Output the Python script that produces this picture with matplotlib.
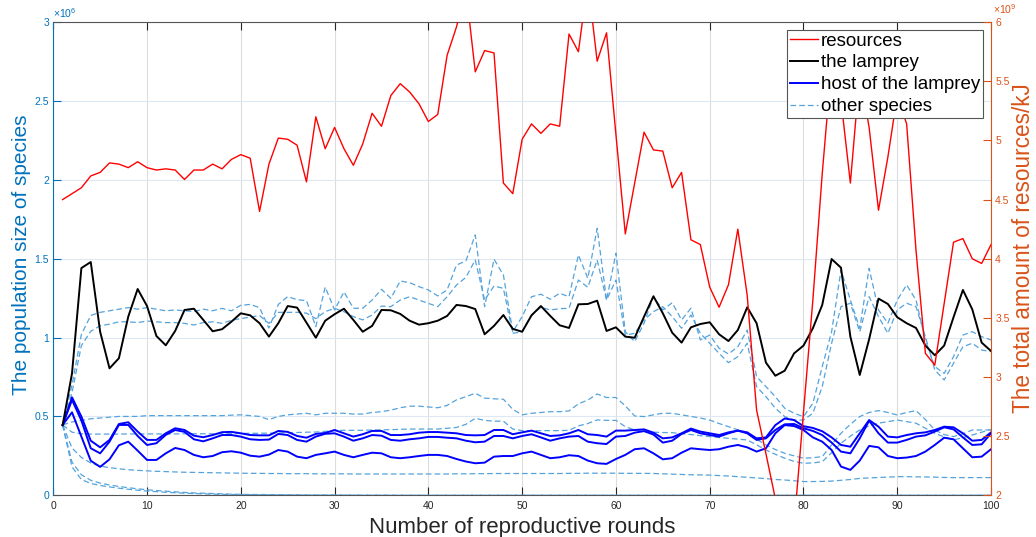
import matplotlib
matplotlib.use("Agg")
import matplotlib.pyplot as plt
from matplotlib.ticker import FuncFormatter
from matplotlib.lines import Line2D

plt.rcParams['font.family'] = ['Liberation Sans', 'DejaVu Sans']
plt.rcParams['mathtext.fontset'] = 'custom'
plt.rcParams['mathtext.rm'] = 'Liberation Sans'

# reproductive rounds 1..100
rounds = list(range(1, 101))

# total amount of resources (x10^9 kJ)
resources = [
    4.50, 4.55, 4.60, 4.70, 4.73, 4.81, 4.80, 4.77, 4.82, 4.77,
    4.75, 4.76, 4.75, 4.67, 4.75, 4.75, 4.80, 4.76, 4.84, 4.88,
    4.85, 4.40, 4.80, 5.02, 5.01, 4.96, 4.65, 5.20, 4.93, 5.11,
    4.93, 4.79, 4.97, 5.23, 5.12, 5.38, 5.48, 5.41, 5.31, 5.16,
    5.22, 5.72, 5.96, 6.28, 5.58, 5.76, 5.74, 4.64, 4.55, 5.01,
    5.14, 5.06, 5.14, 5.12, 5.90, 5.75, 6.35, 5.67, 5.91, 5.05,
    4.21, 4.64, 5.07, 4.92, 4.91, 4.60, 4.73, 4.16, 4.12, 3.76,
    3.59, 3.78, 4.25, 3.69, 2.72, 2.35, 1.97, 1.55, 1.75, 2.70,
    3.65, 4.72, 5.65, 5.34, 4.64, 5.57, 5.11, 4.41, 4.86, 5.38,
    5.14, 4.07, 3.20, 3.10, 3.62, 4.14, 4.17, 4.00, 3.96, 4.12,
]

# population of the lamprey (x10^6)
lamprey = [
    0.444, 0.773, 1.441, 1.479, 1.037, 0.805, 0.869, 1.133, 1.308, 1.200,
    1.010, 0.951, 1.042, 1.175, 1.183, 1.112, 1.040, 1.053, 1.101, 1.154,
    1.141, 1.091, 1.006, 1.091, 1.200, 1.190, 1.095, 0.999, 1.107, 1.148,
    1.183, 1.112, 1.037, 1.074, 1.175, 1.173, 1.150, 1.107, 1.082, 1.091,
    1.107, 1.137, 1.207, 1.200, 1.181, 1.021, 1.074, 1.143, 1.055, 1.037,
    1.141, 1.200, 1.137, 1.078, 1.061, 1.211, 1.213, 1.234, 1.042, 1.065,
    1.006, 0.999, 1.133, 1.262, 1.154, 1.031, 0.968, 1.065, 1.086, 1.097,
    1.021, 0.978, 1.048, 1.192, 1.091, 0.841, 0.758, 0.790, 0.900, 0.949,
    1.059, 1.207, 1.498, 1.443, 1.006, 0.763, 0.989, 1.247, 1.213, 1.129,
    1.091, 1.061, 0.949, 0.888, 0.949, 1.129, 1.302, 1.179, 0.968, 0.915,
]

# host species of the lamprey (x10^6)
host_a = [
    0.446, 0.621, 0.499, 0.346, 0.304, 0.351, 0.452, 0.463, 0.404, 0.351,
    0.351, 0.393, 0.425, 0.414, 0.378, 0.368, 0.382, 0.400, 0.402, 0.393,
    0.382, 0.380, 0.380, 0.408, 0.402, 0.376, 0.365, 0.389, 0.395, 0.414,
    0.393, 0.372, 0.387, 0.408, 0.408, 0.382, 0.382, 0.387, 0.397, 0.401,
    0.401, 0.397, 0.393, 0.382, 0.380, 0.382, 0.414, 0.414, 0.387, 0.399,
    0.410, 0.393, 0.376, 0.380, 0.393, 0.414, 0.387, 0.382, 0.372, 0.410,
    0.410, 0.414, 0.418, 0.397, 0.361, 0.367, 0.393, 0.423, 0.404, 0.393,
    0.382, 0.399, 0.410, 0.399, 0.361, 0.367, 0.445, 0.487, 0.477, 0.438,
    0.427, 0.406, 0.367, 0.319, 0.308, 0.393, 0.477, 0.435, 0.372, 0.367,
    0.382, 0.393, 0.399, 0.414, 0.435, 0.431, 0.393, 0.346, 0.351, 0.399,
]
host_b = [
    0.446, 0.605, 0.474, 0.298, 0.266, 0.340, 0.446, 0.446, 0.376, 0.319,
    0.330, 0.383, 0.414, 0.402, 0.355, 0.342, 0.361, 0.382, 0.382, 0.372,
    0.355, 0.351, 0.353, 0.389, 0.382, 0.351, 0.340, 0.372, 0.390, 0.393,
    0.372, 0.346, 0.361, 0.382, 0.378, 0.351, 0.346, 0.355, 0.361, 0.370,
    0.370, 0.365, 0.361, 0.346, 0.336, 0.340, 0.376, 0.376, 0.361, 0.376,
    0.387, 0.367, 0.346, 0.361, 0.372, 0.376, 0.340, 0.330, 0.325, 0.372,
    0.376, 0.397, 0.407, 0.385, 0.334, 0.346, 0.389, 0.414, 0.393, 0.382,
    0.372, 0.393, 0.410, 0.393, 0.351, 0.361, 0.414, 0.450, 0.452, 0.425,
    0.408, 0.382, 0.334, 0.277, 0.266, 0.361, 0.473, 0.393, 0.334, 0.334,
    0.351, 0.372, 0.380, 0.404, 0.431, 0.418, 0.367, 0.319, 0.323, 0.393,
]
host_c = [
    0.446, 0.526, 0.372, 0.219, 0.180, 0.228, 0.317, 0.340, 0.283, 0.224,
    0.224, 0.266, 0.300, 0.287, 0.256, 0.241, 0.249, 0.273, 0.279, 0.270,
    0.251, 0.245, 0.258, 0.287, 0.277, 0.245, 0.235, 0.256, 0.266, 0.277,
    0.256, 0.241, 0.256, 0.270, 0.266, 0.241, 0.235, 0.241, 0.249, 0.256,
    0.256, 0.249, 0.230, 0.214, 0.203, 0.207, 0.245, 0.249, 0.249, 0.266,
    0.277, 0.256, 0.235, 0.241, 0.254, 0.249, 0.220, 0.203, 0.199, 0.230,
    0.256, 0.292, 0.298, 0.266, 0.228, 0.235, 0.270, 0.298, 0.292, 0.287,
    0.292, 0.308, 0.319, 0.304, 0.277, 0.298, 0.393, 0.445, 0.439, 0.414,
    0.367, 0.340, 0.287, 0.182, 0.161, 0.220, 0.313, 0.304, 0.249, 0.235,
    0.239, 0.249, 0.277, 0.319, 0.365, 0.355, 0.298, 0.241, 0.245, 0.292,
]

# remaining species in the community (x10^6)
other_1 = [
    0.446, 0.700, 1.020, 1.140, 1.160, 1.170, 1.180, 1.190, 1.180, 1.190,
    1.180, 1.170, 1.175, 1.170, 1.165, 1.180, 1.170, 1.185, 1.170, 1.205,
    1.210, 1.190, 1.060, 1.210, 1.260, 1.240, 1.235, 1.070, 1.320, 1.175,
    1.290, 1.186, 1.186, 1.238, 1.306, 1.249, 1.359, 1.348, 1.323, 1.302,
    1.264, 1.302, 1.460, 1.486, 1.651, 1.196, 1.497, 1.397, 1.037, 1.133,
    1.259, 1.275, 1.243, 1.281, 1.259, 1.524, 1.376, 1.693, 1.238, 1.535,
    1.037, 0.974, 1.091, 1.260, 1.175, 1.221, 1.112, 1.186, 0.985, 1.016,
    0.932, 0.896, 0.942, 1.048, 0.752, 0.689, 0.625, 0.552, 0.520, 0.499,
    0.583, 0.816, 1.037, 1.429, 1.238, 1.059, 1.439, 1.175, 1.091, 1.238,
    1.334, 1.238, 0.985, 0.816, 0.773, 0.879, 1.016, 1.037, 1.006, 0.985,
]
other_2 = [
    0.446, 0.650, 0.950, 1.040, 1.075, 1.085, 1.100, 1.100, 1.095, 1.105,
    1.100, 1.095, 1.095, 1.090, 1.080, 1.095, 1.100, 1.090, 1.110, 1.120,
    1.130, 1.140, 1.090, 1.160, 1.160, 1.160, 1.155, 1.120, 1.165, 1.185,
    1.164, 1.133, 1.112, 1.143, 1.200, 1.196, 1.238, 1.259, 1.238, 1.217,
    1.196, 1.259, 1.333, 1.382, 1.492, 1.238, 1.327, 1.312, 1.027, 1.037,
    1.143, 1.192, 1.175, 1.183, 1.186, 1.365, 1.319, 1.492, 1.238, 1.365,
    1.016, 1.027, 1.112, 1.164, 1.196, 1.133, 1.059, 1.143, 1.027, 0.964,
    0.900, 0.841, 0.879, 0.964, 0.689, 0.625, 0.552, 0.499, 0.477, 0.477,
    0.520, 0.689, 0.964, 1.196, 1.218, 1.037, 1.259, 1.133, 1.027, 1.175,
    1.218, 1.196, 1.006, 0.795, 0.731, 0.837, 0.942, 0.964, 0.921, 0.911,
]
other_3 = [
    0.446, 0.465, 0.475, 0.485, 0.490, 0.495, 0.500, 0.500, 0.500, 0.505,
    0.505, 0.505, 0.505, 0.505, 0.505, 0.505, 0.505, 0.505, 0.508, 0.510,
    0.505, 0.500, 0.480, 0.500, 0.510, 0.515, 0.520, 0.510, 0.520, 0.520,
    0.520, 0.515, 0.515, 0.525, 0.530, 0.540, 0.555, 0.565, 0.565, 0.560,
    0.555, 0.570, 0.605, 0.625, 0.647, 0.616, 0.612, 0.609, 0.545, 0.510,
    0.520, 0.525, 0.530, 0.530, 0.535, 0.580, 0.604, 0.642, 0.620, 0.620,
    0.567, 0.503, 0.499, 0.510, 0.520, 0.520, 0.510, 0.500, 0.490, 0.477,
    0.455, 0.435, 0.415, 0.393, 0.355, 0.319, 0.290, 0.266, 0.250, 0.235,
    0.238, 0.245, 0.320, 0.393, 0.450, 0.499, 0.525, 0.537, 0.525, 0.509,
    0.525, 0.537, 0.480, 0.414, 0.385, 0.372, 0.390, 0.414, 0.414, 0.414,
]
other_4 = [
    0.446, 0.400, 0.390, 0.388, 0.388, 0.388, 0.388, 0.389, 0.389, 0.389,
    0.389, 0.389, 0.389, 0.390, 0.390, 0.390, 0.390, 0.390, 0.391, 0.392,
    0.393, 0.393, 0.394, 0.395, 0.397, 0.398, 0.400, 0.401, 0.405, 0.410,
    0.412, 0.412, 0.412, 0.414, 0.415, 0.416, 0.418, 0.420, 0.420, 0.420,
    0.420, 0.425, 0.430, 0.450, 0.488, 0.475, 0.470, 0.470, 0.420, 0.410,
    0.410, 0.410, 0.410, 0.410, 0.412, 0.440, 0.455, 0.478, 0.475, 0.475,
    0.435, 0.414, 0.404, 0.400, 0.398, 0.397, 0.390, 0.385, 0.378, 0.372,
    0.366, 0.361, 0.356, 0.351, 0.320, 0.287, 0.260, 0.235, 0.215, 0.203,
    0.205, 0.213, 0.270, 0.330, 0.375, 0.414, 0.440, 0.457, 0.467, 0.477,
    0.467, 0.457, 0.425, 0.393, 0.370, 0.351, 0.365, 0.382, 0.400, 0.418,
]
other_5 = [
    0.446, 0.300, 0.240, 0.205, 0.185, 0.175, 0.168, 0.162, 0.158, 0.155,
    0.152, 0.150, 0.148, 0.146, 0.145, 0.144, 0.143, 0.142, 0.141, 0.140,
    0.139, 0.139, 0.138, 0.138, 0.137, 0.137, 0.137, 0.136, 0.136, 0.136,
    0.136, 0.135, 0.135, 0.135, 0.135, 0.135, 0.135, 0.135, 0.135, 0.135,
    0.135, 0.135, 0.136, 0.136, 0.137, 0.137, 0.138, 0.138, 0.138, 0.138,
    0.138, 0.138, 0.138, 0.138, 0.139, 0.139, 0.140, 0.140, 0.140, 0.140,
    0.139, 0.139, 0.139, 0.138, 0.136, 0.134, 0.132, 0.130, 0.129, 0.128,
    0.125, 0.122, 0.118, 0.114, 0.110, 0.106, 0.100, 0.097, 0.092, 0.087,
    0.087, 0.088, 0.090, 0.095, 0.100, 0.107, 0.110, 0.113, 0.115, 0.118,
    0.118, 0.117, 0.116, 0.115, 0.113, 0.112, 0.112, 0.112, 0.112, 0.112,
]
other_6 = [
    0.446, 0.180, 0.100, 0.075, 0.062, 0.053, 0.045, 0.038, 0.032, 0.027,
    0.023, 0.019, 0.016, 0.013, 0.011, 0.009, 0.007, 0.006, 0.005, 0.004,
    0.004, 0.003, 0.003, 0.002, 0.002, 0.002, 0.001, 0.001, 0.001, 0.001,
    0.001, 0.001, 0.000, 0.000, 0.000, 0.000, 0.000, 0.000, 0.000, 0.000,
    0.000, 0.000, 0.000, 0.000, 0.000, 0.000, 0.000, 0.000, 0.000, 0.000,
    0.000, 0.000, 0.000, 0.000, 0.000, 0.000, 0.000, 0.000, 0.000, 0.000,
    0.000, 0.000, 0.000, 0.000, 0.000, 0.000, 0.000, 0.000, 0.000, 0.000,
    0.000, 0.000, 0.000, 0.000, 0.000, 0.000, 0.000, 0.000, 0.000, 0.000,
    0.000, 0.000, 0.000, 0.000, 0.000, 0.000, 0.000, 0.000, 0.000, 0.000,
    0.000, 0.000, 0.000, 0.000, 0.000, 0.000, 0.000, 0.000, 0.000, 0.000,
]
other_7 = [
    0.446, 0.210, 0.130, 0.095, 0.077, 0.065, 0.056, 0.048, 0.041, 0.035,
    0.030, 0.026, 0.022, 0.018, 0.015, 0.013, 0.011, 0.009, 0.007, 0.006,
    0.005, 0.005, 0.004, 0.004, 0.003, 0.003, 0.002, 0.002, 0.002, 0.002,
    0.001, 0.001, 0.001, 0.001, 0.001, 0.001, 0.000, 0.000, 0.000, 0.000,
    0.000, 0.000, 0.000, 0.000, 0.000, 0.000, 0.000, 0.000, 0.000, 0.000,
    0.000, 0.000, 0.000, 0.000, 0.000, 0.000, 0.000, 0.000, 0.000, 0.000,
    0.000, 0.000, 0.000, 0.000, 0.000, 0.000, 0.000, 0.000, 0.000, 0.000,
    0.000, 0.000, 0.000, 0.000, 0.000, 0.000, 0.000, 0.000, 0.000, 0.000,
    0.000, 0.000, 0.000, 0.000, 0.000, 0.000, 0.000, 0.000, 0.000, 0.000,
    0.000, 0.000, 0.000, 0.000, 0.000, 0.000, 0.000, 0.000, 0.000, 0.000,
]

x_ticks = [0, 10, 20, 30, 40, 50, 60, 70, 80, 90, 100]
left_ticks = [0, 0.5, 1, 1.5, 2, 2.5, 3]
right_ticks = [2, 2.5, 3, 3.5, 4, 4.5, 5, 5.5, 6]

LEFT_C = '#0072BD'
RIGHT_C = '#D95319'
AXIS_C = '#262626'
DASH_C = '#55a3dc'

fig = plt.figure(figsize=(10.36, 5.37), dpi=100)
ax = fig.add_axes([0.0514, 0.0777, 0.9052, 0.881])
ax2 = ax.twinx()

dash_kw = dict(color=DASH_C, lw=0.9, dashes=(4.5, 2.5))
for series in (other_1, other_2, other_3, other_4, other_5, other_6, other_7):
    ax.plot(rounds, series, **dash_kw)
for series in (host_a, host_b, host_c):
    ax.plot(rounds, series, color='#0000ff', lw=1.4)
ax.plot(rounds, lamprey, color='black', lw=1.4)
ax2.plot(rounds, resources, color='#ff0000', lw=1.0)

# axis ranges and ticks
ax.set_xlim(0, 100)
ax.set_ylim(0, 3)
ax2.set_ylim(2, 6)
ax.set_xticks(x_ticks)
ax.set_yticks(left_ticks)
ax2.set_yticks(right_ticks)
fmt = FuncFormatter(lambda v, p: '%g' % v)
ax.yaxis.set_major_formatter(fmt)
ax2.yaxis.set_major_formatter(fmt)

ax.tick_params(axis='x', direction='in', length=6, width=0.8, colors=AXIS_C,
               labelsize=7.5, pad=4, top=True, labelcolor=AXIS_C)
ax.tick_params(axis='y', direction='in', length=6, width=0.8, colors=LEFT_C,
               labelsize=7.5, pad=3)
ax2.tick_params(axis='y', direction='in', length=6, width=0.8, colors=RIGHT_C,
                labelsize=7.5, pad=3)

for sp in ('top', 'bottom'):
    ax.spines[sp].set_color('#555555')
    ax.spines[sp].set_linewidth(0.8)
    ax2.spines[sp].set_visible(False)
ax.spines['left'].set_color(LEFT_C)
ax.spines['right'].set_visible(False)
ax2.spines['left'].set_visible(False)
ax2.spines['right'].set_color(RIGHT_C)
ax.spines['left'].set_linewidth(0.8)
ax2.spines['right'].set_linewidth(0.8)

ax.xaxis.grid(True, color='#dddddd', lw=0.8)
ax.yaxis.grid(True, color='#dce9f5', lw=0.8)
ax.set_axisbelow(True)

# labels
ax.set_xlabel('Number of reproductive rounds', fontsize=16, color=AXIS_C)
ax.xaxis.set_label_coords(0.5, -0.046)
ax.set_ylabel('The population size of species', fontsize=15, color=LEFT_C)
ax.yaxis.set_label_coords(-0.024, 0.508)
ax2.set_ylabel('The total amount of resources/kJ', fontsize=16.3, color=RIGHT_C)
ax2.yaxis.set_label_coords(1.0224, 0.523)

ax.text(0.0, 1.004, r'$\times$10$^{6}$', transform=ax.transAxes, ha='left',
        va='bottom', fontsize=7.5, color=LEFT_C)
ax2.text(1.002, 1.014, r'$\times$10$^{9}$', transform=ax2.transAxes, ha='left',
         va='bottom', fontsize=7.5, color=RIGHT_C)

handles = [
    Line2D([], [], color='#ff0000', lw=1.0),
    Line2D([], [], color='black', lw=1.4),
    Line2D([], [], color='#0000ff', lw=1.4),
    Line2D([], [], **dash_kw),
]
labels = ['resources', 'the lamprey', 'host of the lamprey', 'other species']
leg = ax2.legend(handles, labels, loc='upper right', bbox_to_anchor=(0.991, 0.984),
                 borderaxespad=0, fontsize=13.5, handlelength=1.5,
                 handletextpad=0.15, labelspacing=0.25, borderpad=0.15,
                 fancybox=False, framealpha=1, edgecolor='#555555')
leg.get_frame().set_linewidth(0.8)

fig.savefig('out.png', dpi=100)
